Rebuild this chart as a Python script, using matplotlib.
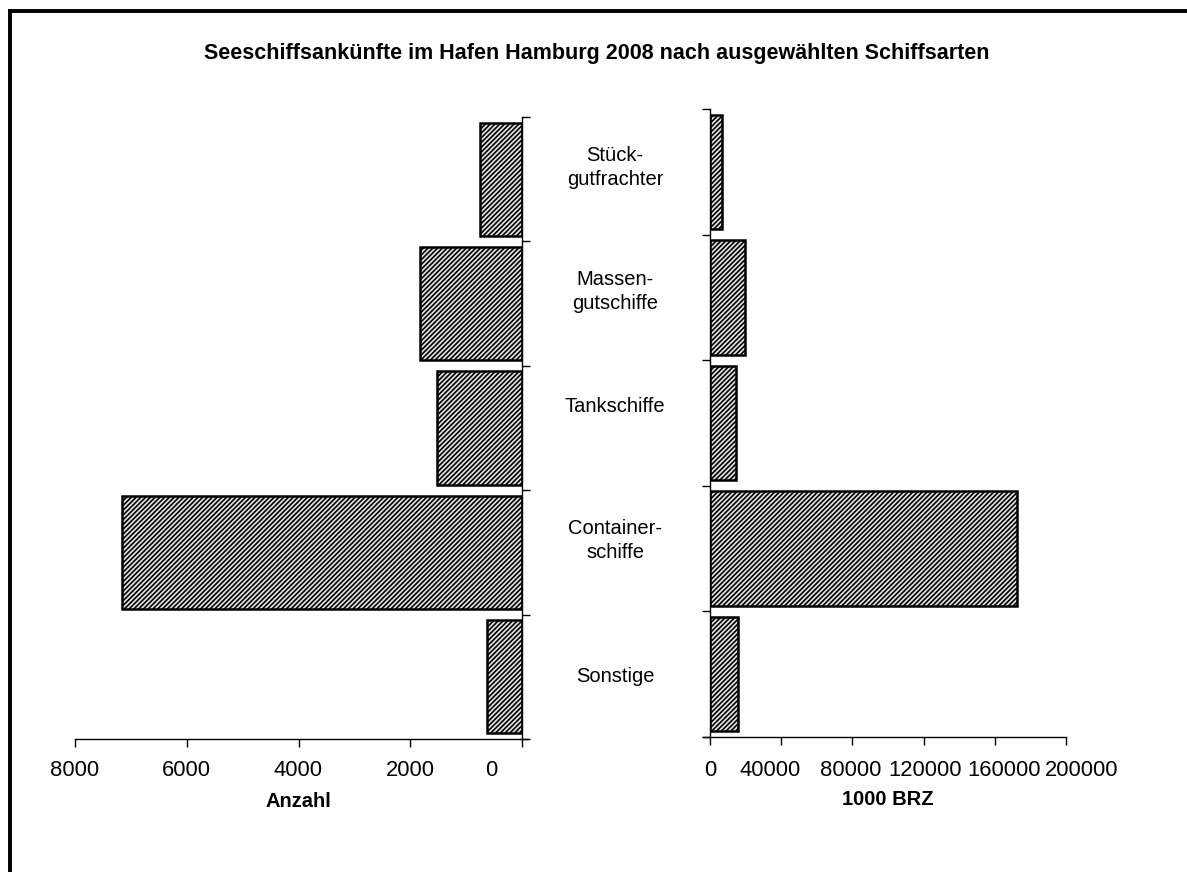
import matplotlib
matplotlib.use("Agg")
import matplotlib.pyplot as plt
from matplotlib.lines import Line2D
import matplotlib.transforms as mtransforms

plt.rcParams['font.family'] = ['Liberation Sans', 'DejaVu Sans']
plt.rcParams['hatch.linewidth'] = 1.2
plt.rcParams['hatch.color'] = '#3c3c3c'

# ---- data ----
categories = ["Stück-\ngutfrachter", "Massen-\ngutschiffe", "Tankschiffe",
              "Container-\nschiffe", "Sonstige"]
anzahl = [750, 1825, 1520, 7160, 625]
brz = [6700, 19700, 14600, 172500, 15700]
left_ticks = [8000, 6000, 4000, 2000, 0]
right_ticks = [0, 40000, 80000, 120000, 160000, 200000]
title = "Seeschiffsankünfte im Hafen Hamburg 2008 nach ausgewählten Schiffsarten"
xlabel_left = "Anzahl"
xlabel_right = "1000 BRZ"

W, H = 1187, 872
fig = plt.figure(figsize=(W / 100, H / 100), dpi=100)

def px_axes(x0, y0, x1, y1):
    return fig.add_axes([x0 / W, 1 - y1 / H, (x1 - x0) / W, (y1 - y0) / H])

axL = px_axes(75, 117, 522, 739)
axR = px_axes(710, 109, 1066, 737)

pos = list(range(len(categories)))
bar_kw = dict(height=0.91, color='#e4e4e4', edgecolor='black', linewidth=1.8,
              hatch='///////')

axL.barh(pos, anzahl, **bar_kw)
axR.barh(pos, brz, **bar_kw)

for ax in (axL, axR):
    ax.set_ylim(len(categories) - 0.5, -0.5)
    ax.set_yticks([p - 0.5 for p in pos] + [len(categories) - 0.5])
    ax.set_yticklabels([])
    ax.spines['top'].set_visible(False)
    ax.tick_params(axis='both', direction='out', length=6, width=1, colors='black')
    for s in ax.spines.values():
        s.set_linewidth(1)

def tick_texts(ax, ticks, dx_px, dy_px):
    base = mtransforms.blended_transform_factory(ax.transData, ax.transAxes)
    for t, dx in zip(ticks, dx_px):
        tr = base + mtransforms.ScaledTranslation(dx / 100, dy_px / 100, fig.dpi_scale_trans)
        ax.text(t, 0, str(t), transform=tr, ha='center', va='center', fontsize=15.8,
                clip_on=False)

# left axes: reversed, y-axis on right
axL.set_xlim(8000, 0)
axL.set_xticks(left_ticks)
axL.set_xticklabels([])
axL.spines['left'].set_visible(False)
axL.yaxis.tick_right()
axL.spines['bottom'].set_bounds(8000, -110)
tick_texts(axL, left_ticks, [0, 0, 0, 0, -31], -31)
axL.set_xlabel(xlabel_left, fontsize=14.5, fontweight='bold', labelpad=29)

# right axes
axR.set_xlim(0, 200000)
axR.set_xticks(right_ticks)
axR.set_xticklabels([])
axR.spines['right'].set_visible(False)
axR.spines['bottom'].set_bounds(-4000, 200000)
tick_texts(axR, right_ticks, [0, -11, -2, 2, 9, 16], -33)
axR.set_xlabel(xlabel_right, fontsize=14.5, fontweight='bold', labelpad=29)

# category labels in the centre gap
label_dy_px = [12, 12, 22, 12, 0]
for p, lab, dy in zip(pos, categories, label_dy_px):
    tr = mtransforms.blended_transform_factory(fig.transFigure, axL.transData)
    tr = tr + mtransforms.ScaledTranslation(0, dy / 100, fig.dpi_scale_trans)
    fig.text(615 / W, p, lab, transform=tr, ha='center', va='center',
             fontsize=14.5, linespacing=1.35)

fig.text(597 / W, 1 - 53 / H, title, ha='center', va='center',
         fontsize=15.5, fontweight='bold')

# figure frame (top and left edges visible)
fig.add_artist(Line2D([10 / W, 1.0], [1 - 11.5 / H, 1 - 11.5 / H],
                      transform=fig.transFigure, color='black', linewidth=2.8))
fig.add_artist(Line2D([10 / W, 10 / W], [0.0, 1 - 11.5 / H],
                      transform=fig.transFigure, color='black', linewidth=2.8,
                      solid_capstyle='projecting'))

fig.savefig("out.png", dpi=100, facecolor='white')
